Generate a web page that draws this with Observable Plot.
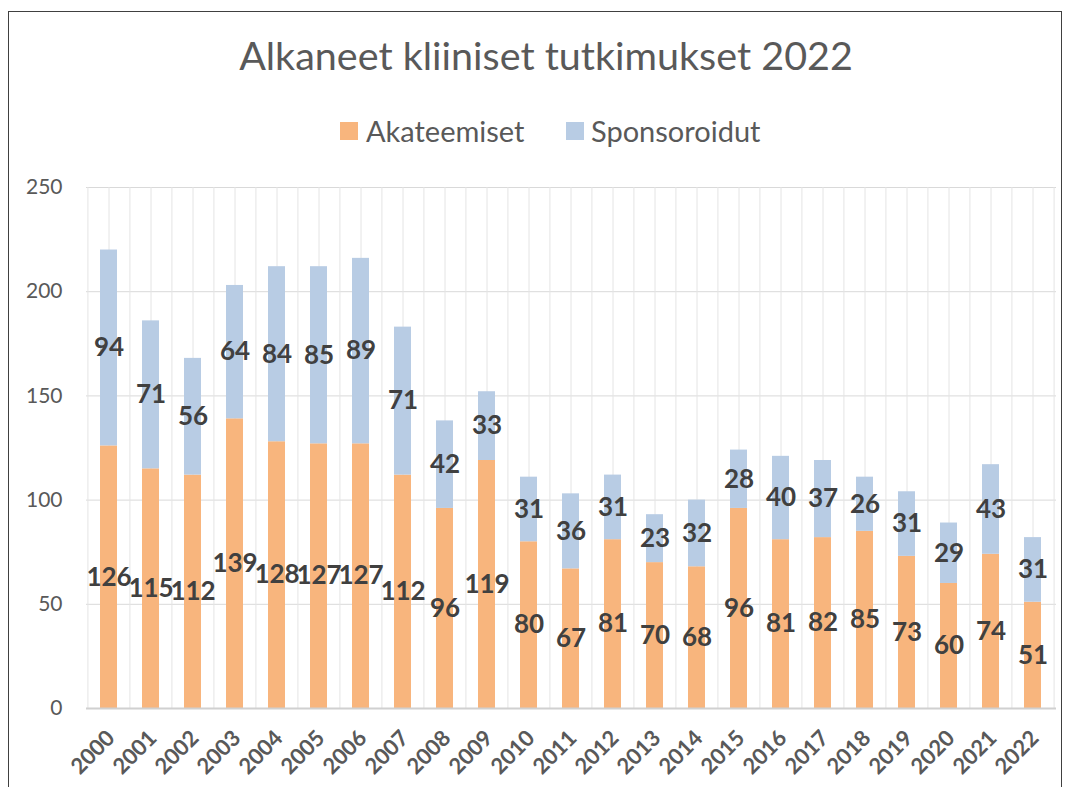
<!DOCTYPE html>
<html>
<head>
<meta charset="utf-8">
<script src="https://cdn.jsdelivr.net/npm/d3@7"></script>
<script src="https://cdn.jsdelivr.net/npm/@observablehq/plot@0.6"></script>
<style>
  html, body { margin: 0; padding: 0; background: white; overflow: hidden; }
  body { width: 1072px; height: 787px; position: relative; font-family: Lato, "Open Sans", sans-serif; }
  #frame { position: absolute; left: 8px; top: 11px; width: 1052px; height: 800px; border: 1.5px solid #404040; }
  #title { position: absolute; left: 0; width: 1092px; top: 35px; text-align: center; font-size: 39.5px; line-height: 39.5px; color: #595959; white-space: nowrap; }
  .sw { position: absolute; width: 18px; height: 18px; }
  .lt { position: absolute; font-size: 29px; line-height: 29px; color: #595959; white-space: nowrap; }
  #chart { position: absolute; left: 10px; top: 160px; }
</style>
</head>
<body>
<div id="frame"></div>
<div id="title">Alkaneet kliiniset tutkimukset 2022</div>
<div id="legend"></div>
<div id="chart"></div>
<script>
const years = ["2000","2001","2002","2003","2004","2005","2006","2007","2008","2009","2010","2011","2012","2013","2014","2015","2016","2017","2018","2019","2020","2021","2022"];
const akateemiset = [126,115,112,139,128,127,127,112,96,119,80,67,81,70,68,96,81,82,85,73,60,74,51];
const sponsoroidut = [94,71,56,64,84,85,89,71,42,33,31,36,31,23,32,28,40,37,26,31,29,43,31];
const seriesNames = ["Akateemiset", "Sponsoroidut"];
const seriesColors = ["#F8B57D", "#B8CCE4"];
const yTicks = [0, 50, 100, 150, 200, 250];

const data = [];
years.forEach((y, i) => {
  data.push({year: y, series: seriesNames[0], value: akateemiset[i]});
  data.push({year: y, series: seriesNames[1], value: sponsoroidut[i]});
});

// legend
const legend = document.getElementById("legend");
const legendPos = [{sq: 340, tx: 366}, {sq: 566, tx: 591}];
seriesNames.forEach((name, i) => {
  const sw = document.createElement("div");
  sw.className = "sw";
  sw.style.left = legendPos[i].sq + "px";
  sw.style.top = "122px";
  sw.style.background = seriesColors[i];
  legend.appendChild(sw);
  const t = document.createElement("div");
  t.className = "lt";
  t.style.left = legendPos[i].tx + "px";
  t.style.top = "116px";
  t.textContent = name;
  legend.appendChild(t);
});

const W = 1052, ML = 76, MR = 6;
const step = (W - ML - MR) / years.length;

const chart = Plot.plot({
  width: W,
  height: 640,
  marginLeft: ML,
  marginRight: MR,
  marginTop: 27,
  marginBottom: 92,
  x: {domain: years, paddingInner: 0.59, paddingOuter: 0.295, label: null, axis: null},
  y: {domain: [0, 250], label: null},
  color: {domain: seriesNames, range: seriesColors},
  style: {fontFamily: "Lato, 'Open Sans', sans-serif", background: "transparent", overflow: "visible"},
  marks: [
    Plot.gridY(yTicks, {stroke: "#d9d9d9", strokeOpacity: 1, strokeWidth: 1}),
    Plot.ruleX(years, {stroke: "#e4e4e4", strokeWidth: 1, dx: -step / 2}),
    Plot.ruleX([years[years.length - 1]], {stroke: "#e4e4e4", strokeWidth: 1, dx: step / 2}),
    Plot.ruleX(years, {stroke: "#e4e4e4", strokeWidth: 1}),
    Plot.barY(data, {x: "year", y: "value", fill: "series", z: "series"}),
    Plot.ruleY([0], {stroke: "#d0d0d0", strokeWidth: 2}),
    Plot.text(data, Plot.stackY({x: "year", y: "value", z: "series", text: "value",
      fill: "#404040", fontSize: 26, fontWeight: "bold"})),
    Plot.axisY(yTicks, {tickSize: 0, tickPadding: 24, fontSize: 21, fill: "#595959", label: null}),
    // x tick labels (rotated)
    Plot.text(years, {x: d => d, y: () => 0, text: d => d, rotate: -45, textAnchor: "end",
      lineAnchor: "middle", dx: 2, dy: 26, fontSize: 22, fontWeight: "bold", fill: "#595959"})
  ]
});
document.getElementById("chart").appendChild(chart);
</script>
</body>
</html>
